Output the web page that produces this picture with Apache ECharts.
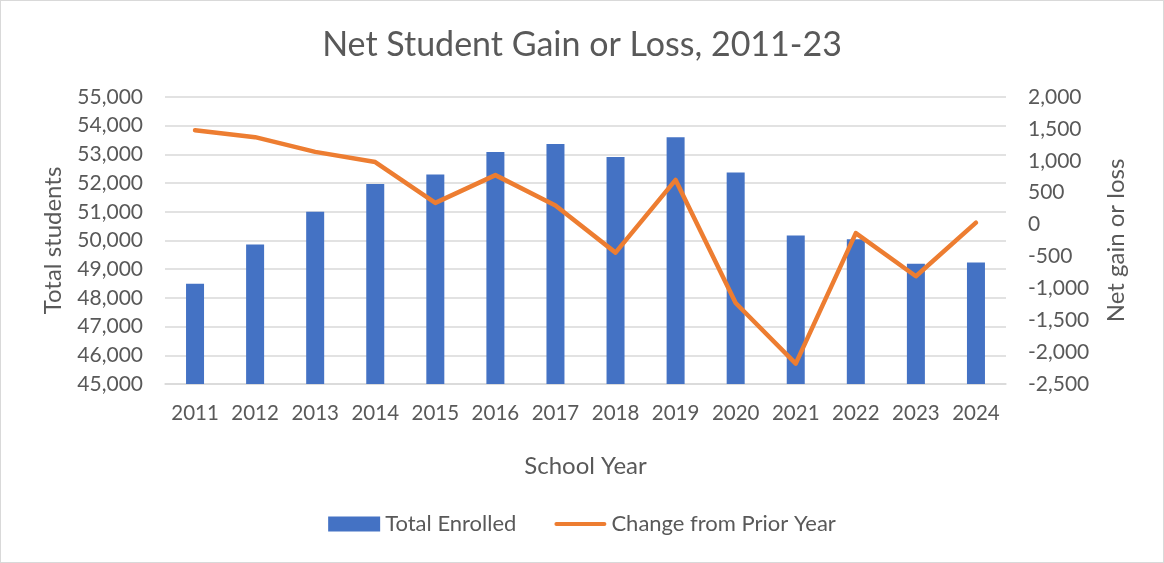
<!DOCTYPE html>
<html lang="en">
  <head>
    <meta charset="UTF-8" />
    <title>Net Student Gain or Loss</title>
    <script src="https://cdn.jsdelivr.net/npm/echarts@6/dist/echarts.min.js"></script>
    <style>
      html, body { margin: 0; padding: 0; background: #fff; }
      #chart { width: 1162px; height: 561px; border: 1px solid #d9d9d9; }
    </style>
  </head>
  <body>
    <div id="chart"></div>

    <script>
      // school years on the x axis
      var years = ["2011", "2012", "2013", "2014", "2015", "2016", "2017",
                   "2018", "2019", "2020", "2021", "2022", "2023", "2024"];
      // total enrolled (left axis)
      var enrolled = [48490, 49860, 51000, 51970, 52300, 53080, 53360,
                      52910, 53600, 52370, 50170, 50040, 49190, 49230];
      // change from prior year (right axis)
      var change = [1480, 1370, 1140, 980, 340, 775, 300,
                    -440, 700, -1230, -2180, -135, -810, 30];

      var textColor = "#595959";
      var font = "Lato";

      function fmt(v) {
        return Number(v).toLocaleString("en-US");
      }

      var myChart = echarts.init(document.getElementById("chart"));

      var option = {
        textStyle: { fontFamily: font, color: textColor },
        title: {
          text: "Net Student Gain or Loss, 2011-23",
          left: "center",
          top: 22,
          textStyle: { fontFamily: font, fontSize: 34, fontWeight: "normal", color: textColor },
        },
        legend: {
          bottom: 22,
          left: "center",
          itemGap: 38,
          itemWidth: 52,
          itemHeight: 15,
          textStyle: { fontFamily: font, fontSize: 22, color: textColor },
          data: [
            { name: "Total Enrolled", icon: "rect" },
            {
              name: "Change from Prior Year",
              icon: "path://M2,0 H50 A2,2 0 0 1 50,4 H2 A2,2 0 0 1 2,0 Z",
            },
          ],
        },
        grid: { left: 164, right: 157, top: 96, bottom: 178 },
        xAxis: {
          type: "category",
          data: years,
          name: "School Year",
          nameLocation: "middle",
          nameGap: 70,
          nameTextStyle: { fontFamily: font, fontSize: 24, color: textColor },
          axisLine: { onZero: false, lineStyle: { color: "#d9d9d9", width: 1.5 } },
          axisTick: { show: false },
          axisLabel: { interval: 0, fontFamily: font, fontSize: 20.5, color: textColor, margin: 19 },
        },
        yAxis: [
          {
            type: "value",
            min: 45000,
            max: 55000,
            interval: 1000,
            name: "Total students",
            nameLocation: "middle",
            nameRotate: 90,
            nameGap: 100,
            nameTextStyle: { fontFamily: font, fontSize: 24, color: textColor },
            axisLine: { show: false },
            axisTick: { show: false },
            axisLabel: { fontFamily: font, fontSize: 21, color: textColor, margin: 22, formatter: fmt },
            splitLine: { lineStyle: { color: "#d9d9d9", width: 1.5 } },
          },
          {
            type: "value",
            min: -2500,
            max: 2000,
            interval: 500,
            alignTicks: false,
            name: "Net gain or loss",
            nameLocation: "middle",
            nameRotate: 90,
            nameGap: 98,
            nameTextStyle: { fontFamily: font, fontSize: 24, color: textColor },
            axisLine: { show: false },
            axisTick: { show: false },
            axisLabel: { fontFamily: font, fontSize: 21, color: textColor, margin: 22, formatter: fmt },
            splitLine: { show: false },
          },
        ],
        series: [
          {
            name: "Total Enrolled",
            type: "bar",
            yAxisIndex: 0,
            barWidth: 18,
            itemStyle: { color: "#4472c4" },
            data: enrolled,
          },
          {
            name: "Change from Prior Year",
            type: "line",
            yAxisIndex: 1,
            symbol: "none",
            lineStyle: { color: "#ed7d31", width: 4.5, cap: "round", join: "round" },
            itemStyle: { color: "#ed7d31" },
            data: change,
          },
        ],
      };

      myChart.setOption(option);
    </script>
  </body>
</html>
